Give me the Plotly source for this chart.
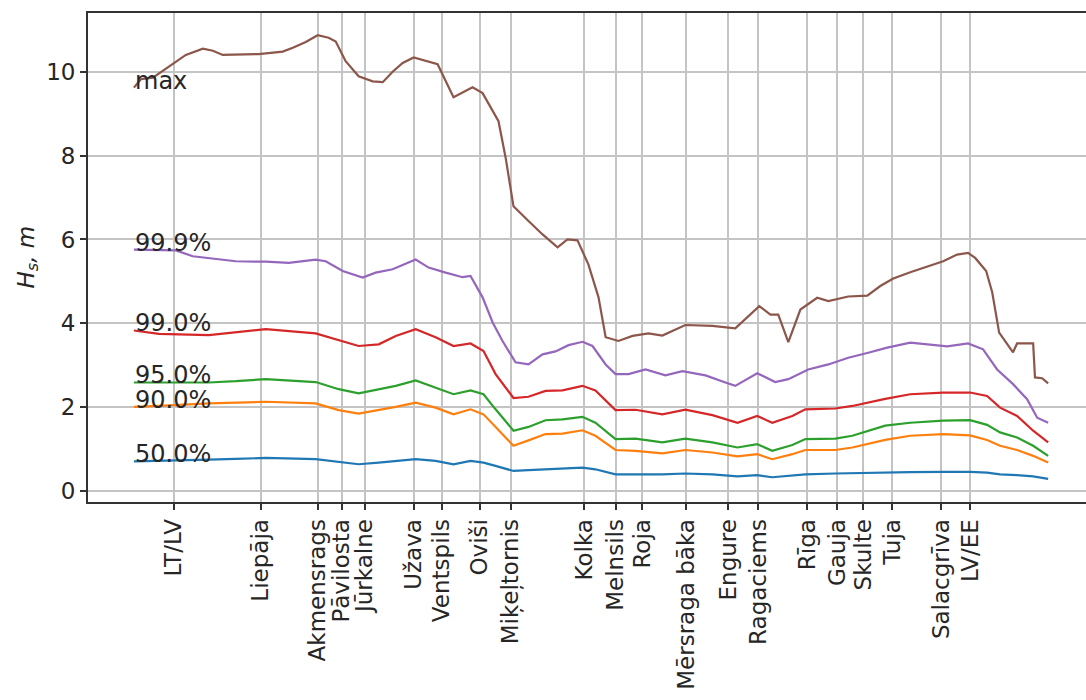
import plotly.graph_objects as go

# Distance along the Latvian coast, km (0 = start of the modelled coastline)
place_km = [21.9, 69.4, 100.5, 113.7, 126.2, 153.0, 168.3, 189.1, 206.0, 246.4,
            263.4, 278.1, 302.2, 325.1, 341.5, 368.3, 384.7, 398.9, 414.7, 441.5, 457.3]
place_names = ["LT/LV", "Liepāja", "Akmensrags", "Pāvilosta", "Jūrkalne", "Užava",
               "Ventspils", "Oviši", "Miķeļtornis", "Kolka", "Melnsils", "Roja",
               "Mērsraga bāka", "Engure", "Ragaciems", "Rīga", "Gauja", "Skulte",
               "Tuja", "Salacgrīva", "LV/EE"]

# Maximum significant wave height along the coast
km_max = [0.0, 3.8, 10.4, 19.1, 28.4, 37.7, 43.2, 48.6, 68.3, 81.4, 86.9, 94.0, 100.5,
          106.5, 110.4, 115.8, 122.9, 130.6, 136.1, 141.5, 147.0, 153.0, 159.5, 166.1,
          174.8, 185.2, 190.7, 199.4, 203.3, 207.6, 215.8, 223.5, 231.7, 237.1, 242.6,
          248.6, 254.1, 258.0, 265.0, 272.7, 281.4, 289.0, 301.6, 316.4, 328.9, 336.0,
          342.0, 348.1, 352.4, 357.9, 364.5, 373.7, 379.8, 390.7, 401.1, 408.2, 415.3,
          424.6, 435.5, 442.6, 450.2, 456.2, 460.1, 466.1, 469.4, 473.2, 480.8, 483.0,
          491.8, 492.8, 496.7, 500.0]
hs_max = [9.62, 9.82, 9.86, 10.13, 10.40, 10.55, 10.50, 10.40, 10.42, 10.48, 10.57, 10.71,
          10.87, 10.81, 10.72, 10.25, 9.89, 9.77, 9.75, 10.00, 10.21, 10.34, 10.26, 10.18,
          9.39, 9.63, 9.49, 8.82, 7.95, 6.79, 6.44, 6.12, 5.81, 6.00, 5.98, 5.40, 4.62,
          3.67, 3.58, 3.70, 3.76, 3.71, 3.96, 3.94, 3.88, 4.17, 4.41, 4.21, 4.21, 3.55,
          4.33, 4.61, 4.53, 4.64, 4.66, 4.89, 5.07, 5.22, 5.37, 5.48, 5.64, 5.68, 5.56,
          5.25, 4.74, 3.78, 3.31, 3.52, 3.52, 2.71, 2.69, 2.57]

# 99.9 % quantile
km_p999 = [0.0, 22.9, 32.2, 41.0, 55.7, 72.1, 84.7, 99.4, 104.9, 114.2, 125.1, 132.2,
           141.5, 154.1, 161.2, 170.5, 179.8, 184.1, 190.7, 196.2, 201.6, 208.7, 215.8,
           223.5, 230.6, 237.7, 245.4, 250.8, 258.0, 263.4, 270.5, 279.8, 290.7, 300.0,
           312.6, 323.5, 328.9, 340.9, 350.7, 357.9, 368.8, 379.8, 390.7, 401.6, 412.0,
           424.6, 433.8, 444.8, 456.2, 464.4, 472.1, 480.8, 488.5, 494.0, 500.0]
hs_p999 = [5.76, 5.74, 5.60, 5.56, 5.48, 5.47, 5.44, 5.52, 5.48, 5.25, 5.09, 5.21, 5.29,
           5.52, 5.33, 5.21, 5.10, 5.13, 4.62, 4.02, 3.58, 3.07, 3.02, 3.26, 3.33, 3.48,
           3.56, 3.46, 3.02, 2.79, 2.79, 2.90, 2.76, 2.86, 2.76, 2.59, 2.51, 2.81, 2.60,
           2.67, 2.90, 3.02, 3.18, 3.30, 3.42, 3.54, 3.50, 3.45, 3.52, 3.38, 2.90, 2.55,
           2.19, 1.75, 1.63]

# Shared positions for the lower quantiles
km_q = [0.0, 13.7, 41.0, 55.7, 72.1, 99.4, 112.0, 122.9, 133.9, 143.2, 154.1, 165.0,
        174.8, 184.1, 191.2, 197.8, 207.6, 215.8, 225.1, 234.4, 245.3, 252.4, 263.4,
        274.3, 289.0, 301.6, 316.4, 330.1, 340.9, 349.1, 360.1, 367.2, 383.6, 392.9,
        410.9, 424.6, 442.6, 457.3, 466.6, 473.7, 483.0, 491.8, 500.0]
hs_p99 = [3.83, 3.75, 3.72, 3.78, 3.86, 3.76, 3.60, 3.46, 3.50, 3.70, 3.86, 3.67, 3.46,
          3.52, 3.34, 2.79, 2.22, 2.25, 2.39, 2.40, 2.51, 2.40, 1.93, 1.94, 1.83, 1.94,
          1.81, 1.63, 1.79, 1.63, 1.79, 1.95, 1.97, 2.03, 2.20, 2.31, 2.35, 2.35, 2.27,
          1.99, 1.79, 1.44, 1.16]
hs_p95 = [2.59, 2.59, 2.59, 2.62, 2.67, 2.60, 2.43, 2.33, 2.42, 2.51, 2.64, 2.47, 2.31,
          2.40, 2.31, 1.95, 1.44, 1.53, 1.69, 1.71, 1.77, 1.63, 1.24, 1.25, 1.16, 1.25,
          1.16, 1.04, 1.12, 0.96, 1.10, 1.24, 1.25, 1.32, 1.56, 1.63, 1.68, 1.69, 1.58,
          1.40, 1.28, 1.08, 0.84]
hs_p90 = [2.01, 2.03, 2.09, 2.11, 2.13, 2.09, 1.93, 1.85, 1.93, 2.01, 2.11, 1.99, 1.83,
          1.95, 1.83, 1.52, 1.08, 1.21, 1.36, 1.37, 1.45, 1.32, 0.98, 0.96, 0.90, 0.98,
          0.92, 0.83, 0.88, 0.76, 0.88, 0.98, 0.98, 1.04, 1.22, 1.32, 1.36, 1.33, 1.22,
          1.08, 0.98, 0.84, 0.68]
hs_p50 = [0.71, 0.72, 0.75, 0.77, 0.79, 0.76, 0.70, 0.64, 0.68, 0.72, 0.76, 0.72, 0.64,
          0.72, 0.68, 0.60, 0.48, 0.50, 0.52, 0.53, 0.56, 0.52, 0.40, 0.40, 0.40, 0.42,
          0.40, 0.35, 0.38, 0.33, 0.37, 0.40, 0.42, 0.43, 0.44, 0.45, 0.46, 0.46, 0.44,
          0.40, 0.38, 0.35, 0.29]

series = [
    ("50.0%", km_q, hs_p50, "#1f77b4"),
    ("90.0%", km_q, hs_p90, "#ff7f0e"),
    ("95.0%", km_q, hs_p95, "#2ca02c"),
    ("99.0%", km_q, hs_p99, "#d62728"),
    ("99.9%", km_p999, hs_p999, "#9467bd"),
    ("max", km_max, hs_max, "#8c564b"),
]

FONT = "DejaVu Sans"
fig = go.Figure()
for label, xs, ys, color in series:
    fig.add_trace(go.Scatter(x=xs, y=ys, mode="lines", name=label,
                             line=dict(color=color, width=2.2), showlegend=False))
    # label sits on its curve's first value (text baseline at the value)
    fig.add_annotation(x=xs[0], y=ys[0], text=label, showarrow=False,
                       xanchor="left", yanchor="bottom", yshift=-9, xshift=-1,
                       font=dict(family=FONT, size=24, color="#262626"))

fig.add_annotation(xref="paper", yref="paper", x=0, y=0.5, xshift=-78,
                   text="<i>H<sub>s</sub>, m</i>", textangle=-90, showarrow=False,
                   font=dict(family=FONT, size=23, color="#262626"))

fig.update_layout(
    width=1086, height=700,
    margin=dict(l=88, r=0, t=13, b=198),
    plot_bgcolor="white", paper_bgcolor="white",
    font=dict(family=FONT, size=23, color="#262626"),
)
fig.update_xaxes(
    range=[-25.1, 520.7], tickmode="array", tickvals=place_km, ticktext=place_names,
    tickangle=-90, ticks="outside", ticklen=6, tickwidth=1.5, tickcolor="#333333",
    showline=True, linecolor="#333333", linewidth=1.8, mirror=True,
    showgrid=True, gridcolor="#c4c4c4", gridwidth=1.5, zeroline=False,
    tickfont=dict(family=FONT, size=23, color="#262626"),
)
fig.update_yaxes(
    range=[-0.26, 11.4], tickmode="array", tickvals=[0, 2, 4, 6, 8, 10],
    ticks="outside", ticklen=6, tickwidth=1.5, tickcolor="#333333",
    showline=True, linecolor="#333333", linewidth=1.8, mirror=False,
    showgrid=True, gridcolor="#c4c4c4", gridwidth=1.5, zeroline=False,
    tickfont=dict(family=FONT, size=23, color="#262626"),
)

fig.write_html("out.html")
